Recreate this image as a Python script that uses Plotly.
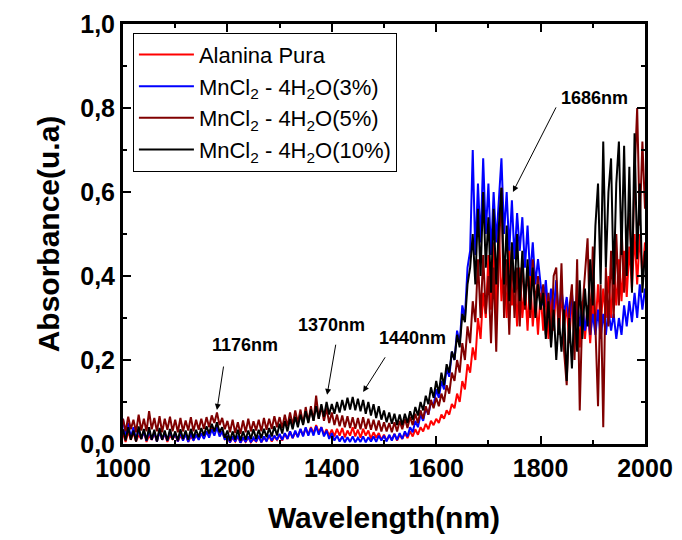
import plotly.graph_objects as go

wavelength = list(range(1000, 2001, 5))

alanina_pura = (
    [0.025,0.005,0.03,0.01,0.028,0.006,0.022,0.012,0.03,0.005,0.02,0.01,0.026,0.006,0.03,0.01,0.024,0.005,0.02,0.012]
  + [0.022,0.006,0.02,0.01,0.024,0.005,0.018,0.01,0.022,0.012,0.025,0.015,0.03,0.02,0.04,0.03,0.045,0.025,0.03,0.012]
  + [0.018,0.004,0.015,0.006,0.018,0.003,0.014,0.005,0.016,0.004,0.012,0.006,0.018,0.004,0.015,0.008,0.02,0.006,0.018,0.01]
  + [0.022,0.008,0.025,0.012,0.03,0.014,0.028,0.018,0.035,0.02,0.038,0.022,0.04,0.025,0.045,0.028,0.04,0.022,0.035,0.02]
  + [0.034,0.018,0.036,0.02,0.038,0.016,0.032,0.02,0.04,0.018,0.034,0.015,0.036,0.02,0.032,0.012,0.028,0.015,0.026,0.01]
  + [0.022,0.008,0.02,0.01,0.024,0.008,0.022,0.012,0.026,0.014,0.03,0.018,0.035,0.022,0.04,0.03,0.048,0.035,0.055,0.045]
  + [0.06,0.05,0.07,0.06,0.08,0.07,0.095,0.085,0.12,0.1,0.15,0.13,0.19,0.17,0.23,0.2,0.3,0.25,0.36,0.3]
  + [0.45,0.32,0.48,0.3,0.52,0.34,0.44,0.3,0.47,0.33,0.4,0.28,0.42,0.3,0.38,0.27,0.4,0.28,0.36,0.26]
  + [0.36,0.27,0.37,0.25,0.35,0.27,0.38,0.26,0.36,0.28,0.33,0.24,0.35,0.26,0.33,0.23,0.34,0.25,0.33,0.24]
  + [0.34,0.27,0.38,0.28,0.37,0.3,0.4,0.3,0.42,0.33,0.44,0.34,0.46,0.35,0.47,0.37,0.5,0.38,0.5,0.4]
  + [0.48]
)

mncl2_3 = (
    [0.06,0.02,0.05,0.015,0.04,0.01,0.035,0.012,0.03,0.008,0.032,0.01,0.028,0.006,0.03,0.01,0.026,0.008,0.03,0.012]
  + [0.025,0.006,0.028,0.008,0.024,0.005,0.026,0.008,0.022,0.01,0.026,0.012,0.03,0.015,0.035,0.02,0.04,0.018,0.03,0.01]
  + [0.02,0.004,0.018,0.006,0.02,0.003,0.016,0.005,0.018,0.004,0.015,0.006,0.02,0.004,0.018,0.006,0.022,0.008,0.02,0.01]
  + [0.024,0.01,0.026,0.012,0.03,0.014,0.032,0.016,0.036,0.018,0.04,0.02,0.038,0.02,0.042,0.022,0.04,0.018,0.032,0.012]
  + [0.026,0.008,0.02,0.006,0.018,0.004,0.016,0.005,0.018,0.004,0.015,0.005,0.018,0.004,0.016,0.006,0.018,0.005,0.02,0.008]
  + [0.02,0.006,0.022,0.008,0.024,0.01,0.026,0.012,0.03,0.018,0.04,0.028,0.055,0.04,0.07,0.055,0.085,0.07,0.1,0.09]
  + [0.13,0.11,0.15,0.13,0.18,0.16,0.22,0.2,0.27,0.24,0.33,0.3,0.42,0.46,0.7,0.45,0.62,0.48,0.68,0.5]
  + [0.62,0.45,0.6,0.48,0.58,0.68,0.5,0.6,0.46,0.58,0.44,0.55,0.46,0.54,0.42,0.52,0.4,0.48,0.38,0.44]
  + [0.38,0.33,0.39,0.31,0.37,0.32,0.39,0.3,0.37,0.31,0.35,0.29,0.36,0.28,0.34,0.28,0.33,0.27,0.32,0.26]
  + [0.31,0.26,0.32,0.25,0.31,0.26,0.32,0.27,0.31,0.25,0.3,0.26,0.33,0.28,0.34,0.29,0.36,0.3,0.38,0.32]
  + [0.37]
)

mncl2_5 = (
    [0.06,0.03,0.065,0.035,0.058,0.028,0.07,0.032,0.06,0.03,0.078,0.035,0.062,0.03,0.066,0.028,0.06,0.034,0.065,0.03]
  + [0.058,0.028,0.062,0.03,0.056,0.032,0.064,0.03,0.058,0.034,0.06,0.036,0.064,0.04,0.068,0.05,0.075,0.045,0.062,0.035]
  + [0.055,0.028,0.058,0.026,0.052,0.024,0.056,0.028,0.06,0.03,0.054,0.032,0.058,0.03,0.062,0.034,0.06,0.036,0.066,0.04]
  + [0.064,0.038,0.07,0.042,0.075,0.045,0.08,0.05,0.082,0.048,0.088,0.052,0.09,0.055,0.115,0.06,0.09,0.055,0.085,0.05]
  + [0.075,0.045,0.07,0.042,0.068,0.04,0.066,0.038,0.064,0.036,0.062,0.035,0.064,0.036,0.06,0.034,0.058,0.032,0.056,0.03]
  + [0.052,0.03,0.05,0.028,0.052,0.03,0.055,0.035,0.06,0.038,0.065,0.045,0.072,0.05,0.08,0.06,0.09,0.07,0.105,0.085]
  + [0.11,0.09,0.12,0.1,0.14,0.12,0.17,0.15,0.2,0.17,0.24,0.2,0.28,0.24,0.34,0.29,0.44,0.3,0.45,0.31]
  + [0.4,0.24,0.42,0.22,0.45,0.61,0.3,0.44,0.26,0.46,0.3,0.42,0.28,0.44,0.32,0.42,0.3,0.44,0.33,0.4]
  + [0.32,0.38,0.26,0.36,0.24,0.4,0.42,0.26,0.43,0.22,0.14,0.32,0.38,0.2,0.44,0.08,0.32,0.4,0.49,0.26]
  + [0.47,0.28,0.09,0.38,0.04,0.42,0.28,0.46,0.3,0.5,0.33,0.52,0.36,0.5,0.55,0.4,0.64,0.8,0.52,0.72]
  + [0.56]
)

mncl2_10 = (
    [0.035,0.008,0.04,0.01,0.032,0.006,0.042,0.012,0.036,0.008,0.04,0.01,0.034,0.006,0.038,0.01,0.032,0.008,0.036,0.01]
  + [0.03,0.008,0.035,0.012,0.032,0.01,0.036,0.014,0.034,0.016,0.038,0.02,0.042,0.025,0.048,0.03,0.052,0.028,0.04,0.015]
  + [0.032,0.008,0.03,0.01,0.034,0.008,0.03,0.01,0.032,0.012,0.035,0.012,0.034,0.014,0.036,0.016,0.038,0.018,0.042,0.02]
  + [0.048,0.025,0.055,0.03,0.06,0.035,0.065,0.04,0.07,0.045,0.078,0.05,0.082,0.055,0.09,0.06,0.095,0.065,0.1,0.07]
  + [0.095,0.072,0.1,0.075,0.105,0.08,0.11,0.082,0.112,0.08,0.108,0.078,0.105,0.072,0.1,0.068,0.095,0.062,0.09,0.058]
  + [0.08,0.052,0.075,0.048,0.072,0.045,0.07,0.045,0.072,0.05,0.078,0.058,0.088,0.068,0.1,0.08,0.115,0.095,0.135,0.11]
  + [0.15,0.12,0.17,0.14,0.19,0.17,0.22,0.2,0.26,0.23,0.31,0.29,0.38,0.42,0.5,0.38,0.56,0.4,0.6,0.42]
  + [0.54,0.36,0.56,0.38,0.52,0.61,0.38,0.52,0.34,0.48,0.36,0.5,0.34,0.46,0.33,0.44,0.32,0.42,0.3,0.38]
  + [0.32,0.36,0.25,0.34,0.23,0.32,0.2,0.3,0.22,0.32,0.15,0.3,0.18,0.34,0.22,0.39,0.25,0.37,0.28,0.44]
  + [0.33,0.52,0.62,0.38,0.72,0.42,0.6,0.68,0.38,0.62,0.72,0.45,0.71,0.4,0.66,0.36,0.74,0.44,0.62,0.36]
  + [0.46]
)

series_names = ["Alanina Pura", "MnCl<sub>2</sub> - 4H<sub>2</sub>O(3%)",
                "MnCl<sub>2</sub> - 4H<sub>2</sub>O(5%)", "MnCl<sub>2</sub> - 4H<sub>2</sub>O(10%)"]
series_values = [alanina_pura, mncl2_3, mncl2_5, mncl2_10]
series_colors = ["#ff0000", "#0000ff", "#800000", "#000000"]

x_ticks = [1000, 1200, 1400, 1600, 1800, 2000]
y_ticks = [0.0, 0.2, 0.4, 0.6, 0.8, 1.0]
y_tick_labels = ["0,0", "0,2", "0,4", "0,6", "0,8", "1,0"]

peak_labels = ["1176nm", "1370nm", "1440nm", "1686nm"]
peak_text_pos = [(1234, 0.236), (1400, 0.283), (1554, 0.252), (1904, 0.824)]
peak_arrow_tail = [(1193, 0.188), (1408, 0.24), (1504, 0.21), (1831, 0.805)]
peak_arrow_tip = [(1180, 0.081), (1391, 0.117), (1460, 0.124), (1747, 0.6)]

FONT = "Liberation Sans, Arial, sans-serif"

fig = go.Figure()
for name, vals, col in zip(series_names, series_values, series_colors):
    fig.add_trace(go.Scatter(x=wavelength, y=vals, mode="lines", name=name,
                             line=dict(color=col, width=2)))

for lab, tpos, tail, tip in zip(peak_labels, peak_text_pos, peak_arrow_tail, peak_arrow_tip):
    fig.add_annotation(x=tpos[0], y=tpos[1], xref="x", yref="y", text="<b>%s</b>" % lab,
                       showarrow=False, font=dict(family=FONT, size=18, color="black"))
    fig.add_annotation(x=tip[0], y=tip[1], ax=tail[0], ay=tail[1], xref="x", yref="y",
                       axref="x", ayref="y", text="", showarrow=True, arrowhead=2,
                       arrowsize=1.2, arrowwidth=1, arrowcolor="black")

axis_common = dict(showline=True, linecolor="black", linewidth=3, mirror="allticks",
                   ticks="inside", ticklen=8, tickwidth=2, tickcolor="black",
                   showgrid=False, zeroline=False,
                   tickfont=dict(family=FONT, size=25, color="black", weight="bold"))

fig.update_xaxes(range=[1000, 2000], tickvals=x_ticks,
                 minor=dict(ticks="inside", ticklen=4, tickwidth=2, tickcolor="black", dtick=100),
                 title=dict(text="<b>Wavelength(nm)</b>", font=dict(family=FONT, size=30, color="black"),
                            standoff=26),
                 **axis_common)
fig.update_yaxes(range=[0, 1.0], tickvals=y_ticks, ticktext=y_tick_labels,
                 minor=dict(ticks="inside", ticklen=4, tickwidth=2, tickcolor="black", dtick=0.1),
                 title=dict(text="<b>Absorbance(u.a)</b>", font=dict(family=FONT, size=30, color="black"),
                            standoff=12),
                 **axis_common)

fig.update_layout(
    width=682, height=540,
    margin=dict(l=115, r=45, t=16, b=104, autoexpand=False),
    plot_bgcolor="white", paper_bgcolor="white",
    legend=dict(x=0.019, y=0.979, xanchor="left", yanchor="top",
                bordercolor="black", borderwidth=1, bgcolor="white",
                font=dict(family=FONT, size=22, color="black"),
                tracegroupgap=0, itemwidth=55),
    showlegend=True,
)

fig.write_html("out.html")
